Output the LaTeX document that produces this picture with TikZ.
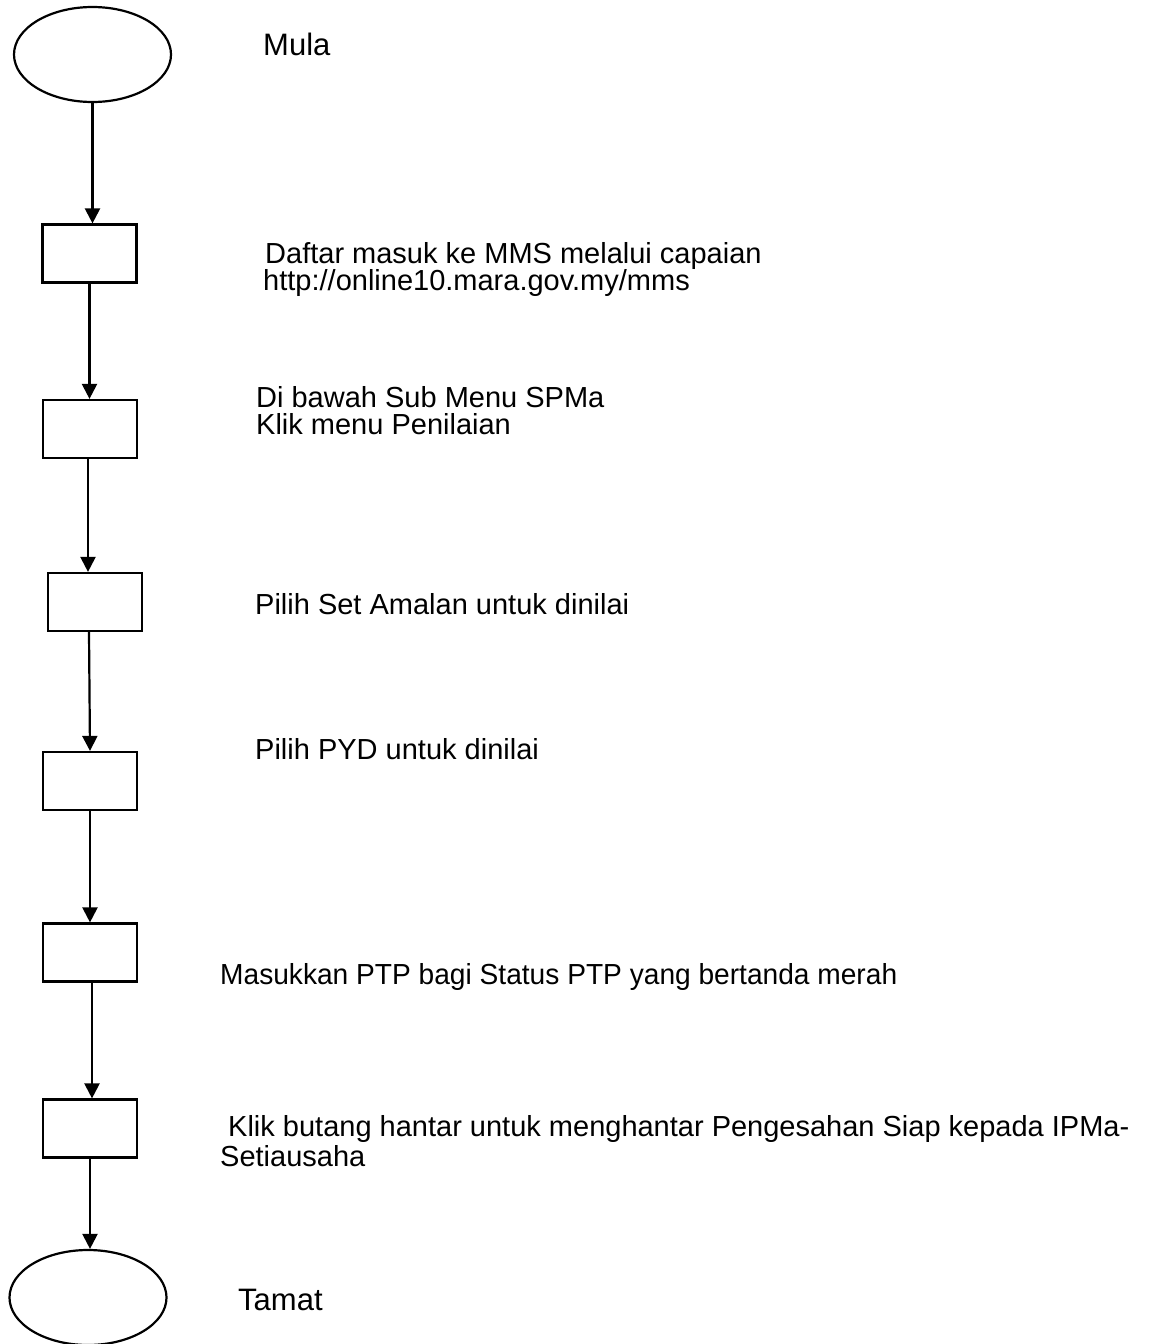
\documentclass[tikz,border=0pt]{standalone}
\usepackage{fontspec}
\setmainfont{Liberation Sans}
\usetikzlibrary{arrows.meta}
\usetikzlibrary{shapes.geometric}

\tikzset{
  terminal/.style={draw, ellipse, line width=2.2pt, minimum width=157pt, minimum height=95pt, inner sep=0pt},
  stepbox/.style={draw, rectangle, line width=2.2pt, minimum width=94pt, minimum height=58pt, inner sep=0pt},
  flow/.style={line width=2.2pt, -{Triangle[width=15pt,length=15pt]}},
  label/.style={anchor=base west, inner sep=0pt, font=\fontsize{29}{31}\selectfont}
}

\begin{document}
\begin{tikzpicture}[x=1pt, y=-1pt]
\useasboundingbox (0,0) rectangle (1159,1344);
% kotak carta alir
\node [terminal] (mula) at (92.5,54.5) {};
\node [stepbox] (daftar) at (89.5,253.5) {};
\node [stepbox] (submenu) at (90,429) {};
\node [stepbox] (set) at (95,602) {};
\node [stepbox] (pyd) at (90,781) {};
\node [stepbox] (ptp) at (90,952.5) {};
\node [stepbox] (hantar) at (90,1128.5) {};
\node [terminal] (tamat) at (88,1297.5) {};
% anak panah
\draw [flow] (mula.south) -- (mula.south |- daftar.north);
\draw [flow] (daftar.south) -- (daftar.south |- submenu.north);
\draw [flow] ([xshift=-2pt]submenu.south) -- ([xshift=-2pt]submenu.south |- set.north);
\draw [flow] ([xshift=-1pt]set.south -| pyd.south) -- (pyd.north);
\draw [flow] (pyd.south) -- (ptp.north);
\draw [flow] ([xshift=2pt]ptp.south) -- ([xshift=2pt]ptp.south |- hantar.north);
\draw [flow] (hantar.south) -- (hantar.south |- tamat.north);
% teks
\node [label, font=\fontsize{31}{33}\selectfont] (tmula) at (263,55) {Mula};
\node [label] (tdaftar) at (265,263) {Daftar masuk ke MMS melalui capaian};
\node [label] (turl) at (263,290) {http://online10.mara.gov.my/mms};
\node [label] (tsub) at (256,407) {Di bawah Sub Menu SPMa};
\node [label] (tklik) at (256,434) {Klik menu Penilaian};
\node [label] (tset) at (255,614) {Pilih Set Amalan untuk dinilai};
\node [label] (tpyd) at (255,759) {Pilih PYD untuk dinilai};
\node [label, xscale=0.97, transform shape] (tptp) at (220,984) {Masukkan PTP bagi Status PTP yang bertanda merah};
\node [label] (thantar) at (228,1136) {Klik butang hantar untuk menghantar Pengesahan Siap kepada IPMa-};
\node [label] (tsetia) at (220,1166) {Setiausaha};
\node [label, font=\fontsize{31}{33}\selectfont] (ttamat) at (238,1310) {Tamat};
\end{tikzpicture}
\end{document}
